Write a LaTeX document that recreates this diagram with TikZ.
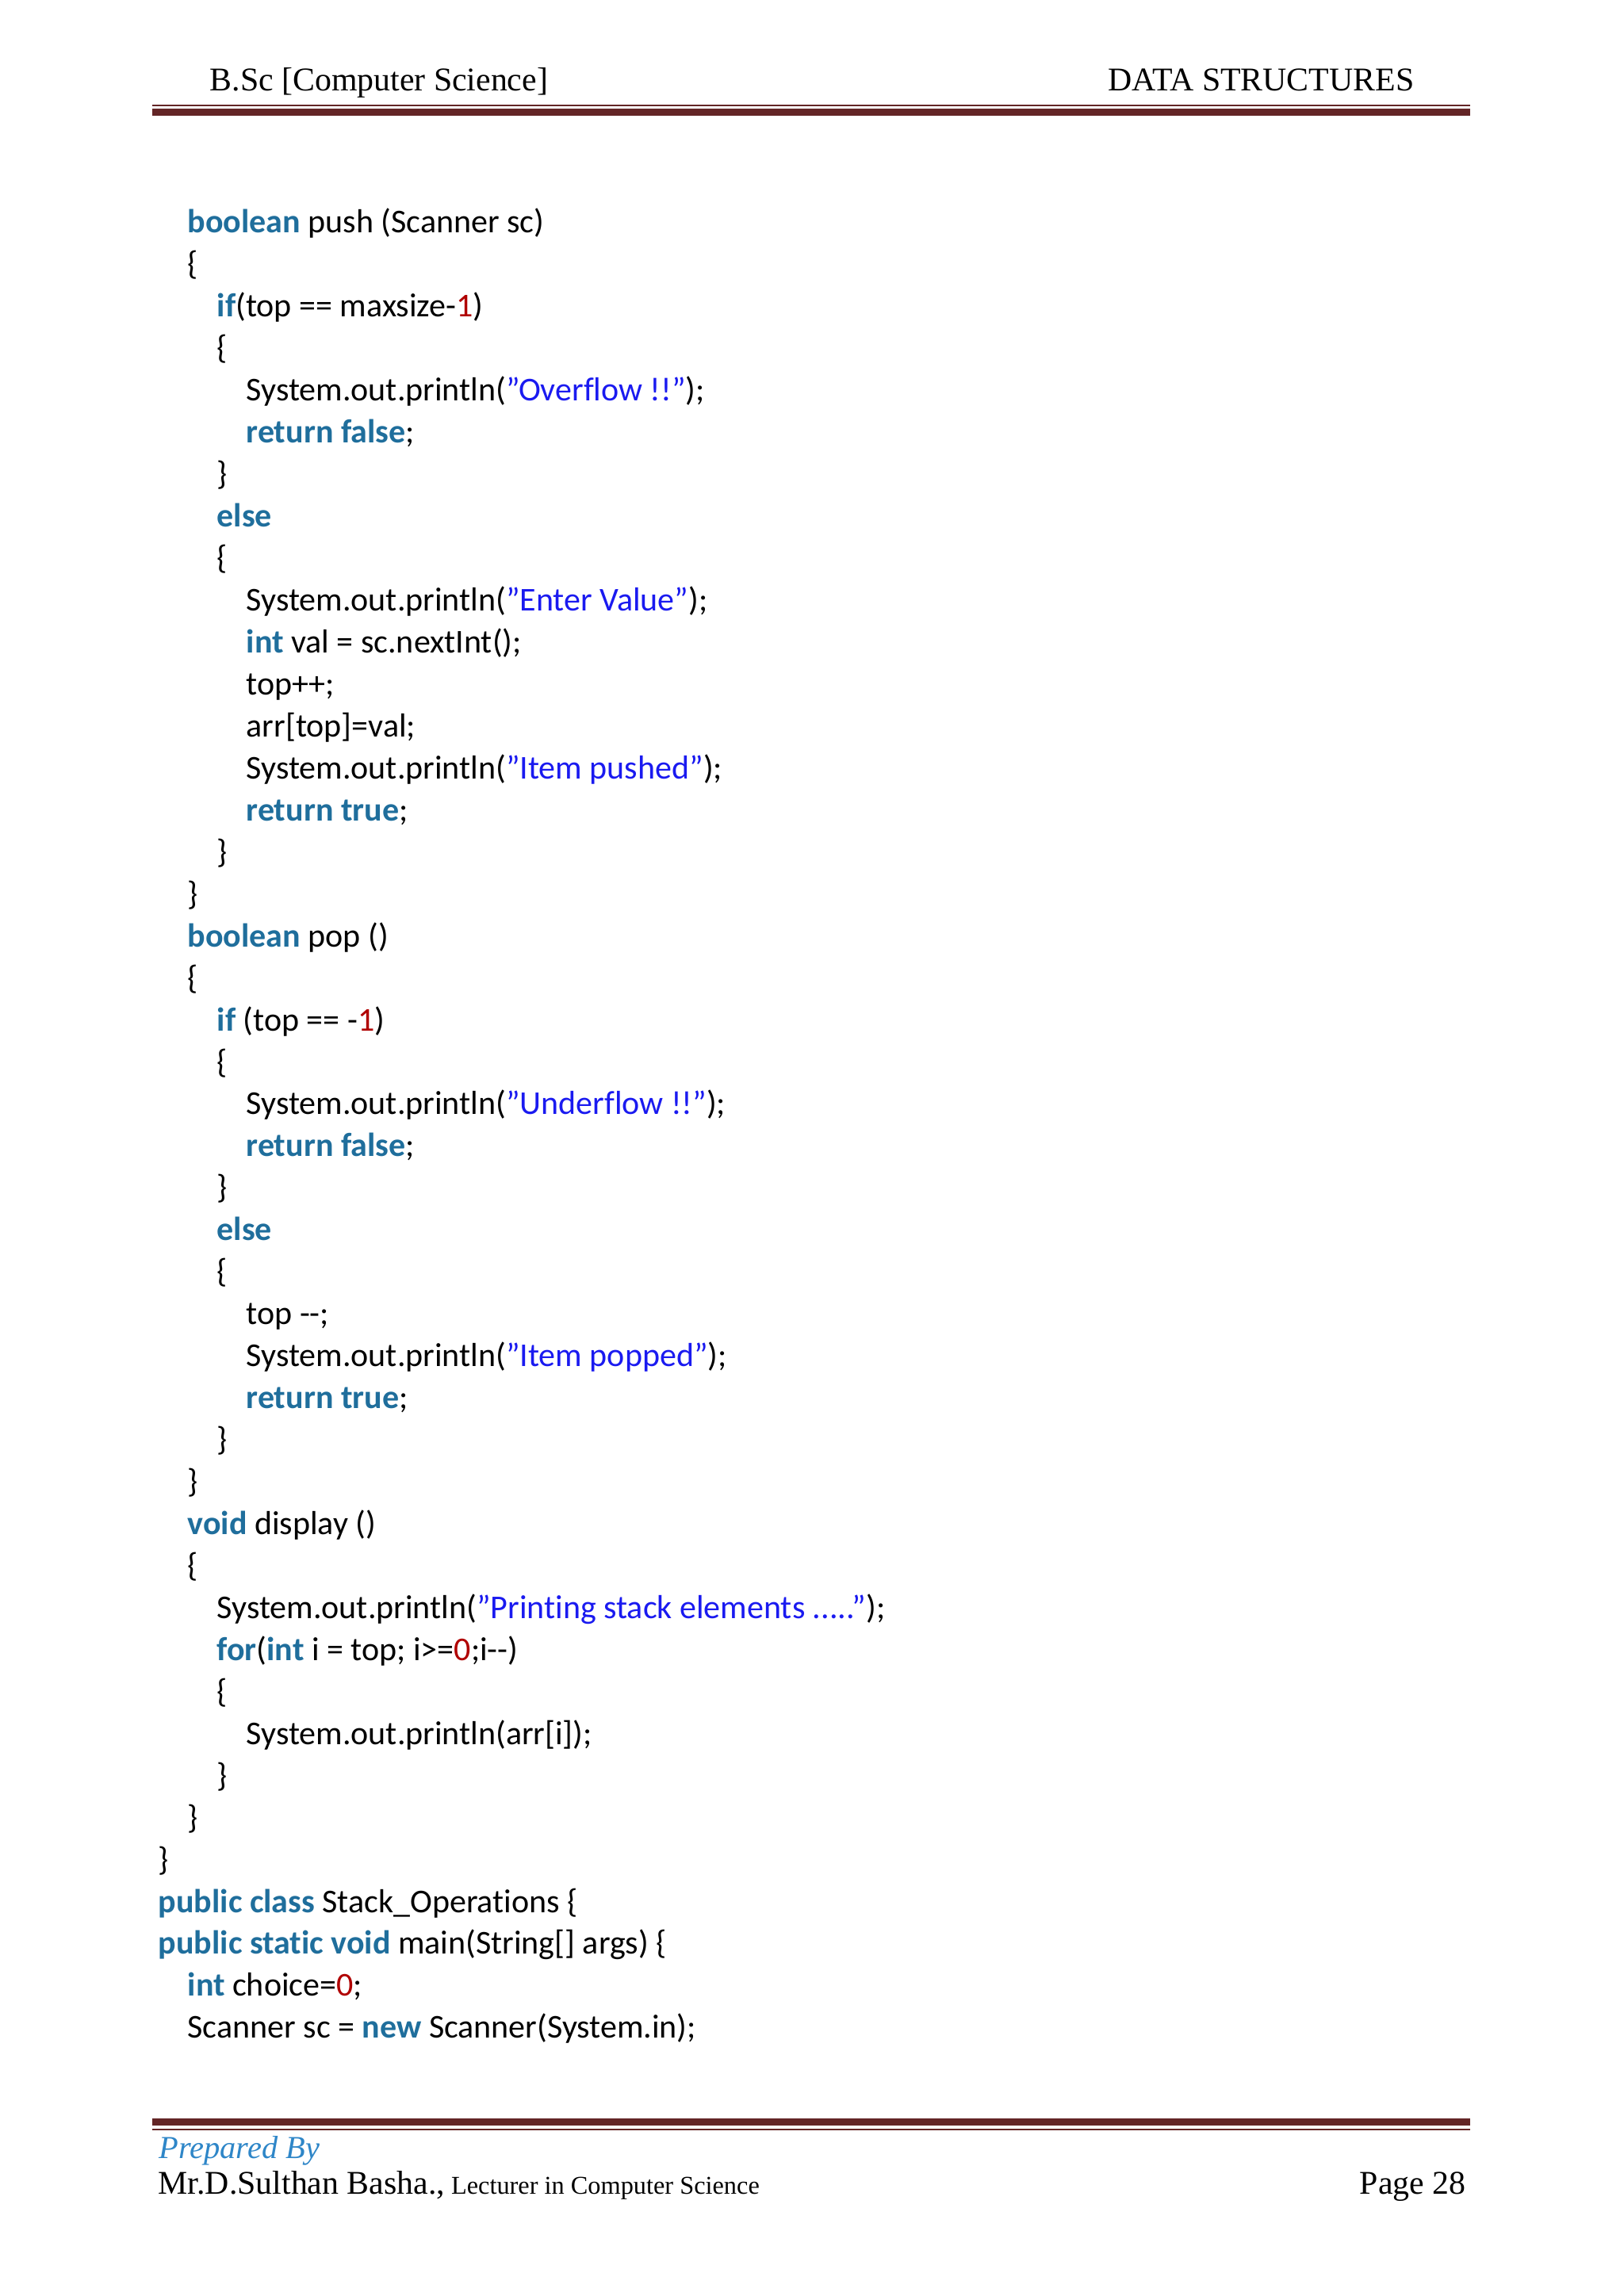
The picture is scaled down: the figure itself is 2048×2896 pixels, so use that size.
\documentclass[tikz,border=0pt]{standalone}
\usepackage{fontspec}
\setmainfont{Carlito}[Ligatures={ResetAll,NoCommon}]
\newfontfamily\hdfont{Liberation Serif}
\definecolor{kwc}{HTML}{1F6E9C}
\definecolor{stc}{HTML}{1A1AF0}
\definecolor{nmc}{HTML}{B00000}
\definecolor{barc}{HTML}{632526}
\definecolor{prepc}{HTML}{2E86C8}
\newcommand{\kw}[1]{\textcolor{kwc}{\bfseries #1}}
\newcommand{\st}[1]{\textcolor{stc}{\symbol{34}#1\symbol{34}}}
\newcommand{\nm}[1]{\textcolor{nmc}{#1}}
\begin{document}
\begin{tikzpicture}[x=0.1mm,y=-0.1mm,
  code/.style={anchor=base west,inner sep=0pt,font=\fontsize{11.95}{14}\selectfont},
  hd/.style={inner sep=0pt,font=\hdfont\fontsize{11.9}{15}\selectfont}]
\useasboundingbox (0,0) rectangle (2048,2896);
\fill[white] (0,0) rectangle (2048,2896);
% header
\node[hd,anchor=base west] (h1) at (264,115) {B.Sc [Computer Science]};
\node[hd,anchor=base east] (h2) at (1784,115) {DATA STRUCTURES};
\fill[barc] (192,132) rectangle (1854,134.5);
\fill[barc] (192,137.5) rectangle (1854,146);
% footer
\fill[barc] (192,2672) rectangle (1854,2681);
\fill[barc] (192,2684.5) rectangle (1854,2687);
\node[anchor=base west,inner sep=0pt,font=\hdfont\itshape\fontsize{11.5}{14}\selectfont,text=prepc] (pb) at (200,2722) {Prepared By};
\node[hd,anchor=base west] (nm) at (199,2767) {Mr.D.Sulthan Basha.,\fontsize{9.2}{12}\selectfont{} Lecturer in Computer Science};
\node[hd,anchor=base east] (pg) at (1849,2767) {Page 28};
% code
\foreach \i/\lv/\t in {
0/1/{\kw{boolean} push (Scanner sc)},
1/1/{\{},
2/2/{\kw{if}(top == maxsize-\nm{1})},
3/2/{\{},
4/3/{System.out.println(\st{Overflow !!});},
5/3/{\kw{return false};},
6/2/{\}},
7/2/{\kw{else}},
8/2/{\{},
9/3/{System.out.println(\st{Enter Value});},
10/3/{\kw{int} val = sc.nextInt();},
11/3/{top++;},
12/3/{arr[top]=val;},
13/3/{System.out.println(\st{Item pushed});},
14/3/{\kw{return true};},
15/2/{\}},
16/1/{\}},
17/1/{\kw{boolean} pop ()},
18/1/{\{},
19/2/{\kw{if} (top == -\nm{1})},
20/2/{\{},
21/3/{System.out.println(\st{Underflow !!});},
22/3/{\kw{return false};},
23/2/{\}},
24/2/{\kw{else}},
25/2/{\{},
26/3/{top -{}-;},
27/3/{System.out.println(\st{Item popped});},
28/3/{\kw{return true};},
29/2/{\}},
30/1/{\}},
31/1/{\kw{void} display ()},
32/1/{\{},
33/2/{System.out.println(\st{Printing stack elements .....});},
34/2/{\kw{for}(\kw{int} i = top; i>=\nm{0};i-{}-)},
35/2/{\{},
36/3/{System.out.println(arr[i]);},
37/2/{\}},
38/1/{\}},
39/0/{\}},
40/0/{\kw{public class} Stack\_Operations \{},
41/0/{\kw{public static void} main(String[] args) \{},
42/1/{\kw{int} choice=\nm{0};},
43/1/{Scanner sc = \kw{new} Scanner(System.in);}}
{\node[code] (l\i) at ({199+37*\lv},{294+52.95*\i}) {\t};}
\end{tikzpicture}
\end{document}
